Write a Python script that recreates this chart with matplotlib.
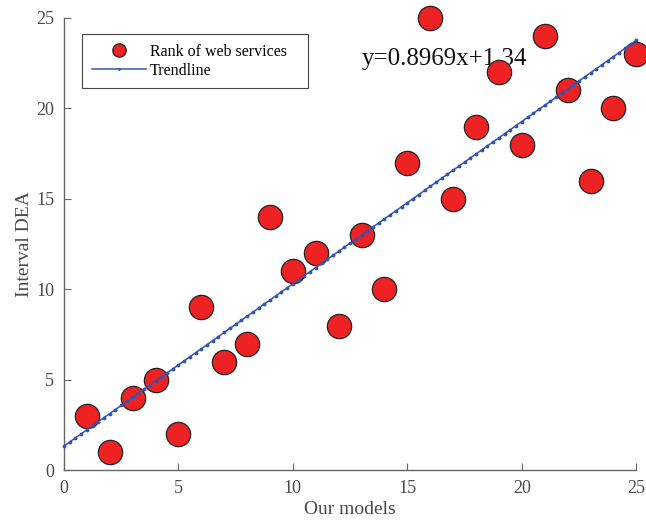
import numpy as np
import matplotlib
matplotlib.use("Agg")
import matplotlib.pyplot as plt

# ===== DATA =====
our_models = [1, 2, 3, 4, 5, 6, 7, 8, 9, 10, 11, 12, 13, 14, 15, 16, 17, 18, 19, 20, 21, 22, 23, 24, 25]
interval_dea = [3, 1, 4, 5, 2, 9, 6, 7, 14, 11, 12, 8, 13, 10, 17, 25, 15, 19, 22, 18, 24, 21, 16, 20, 23]
SLOPE = 0.8969
INTERCEPT = 1.34
TREND_X = np.linspace(0, 25, 101)

plt.rcParams["font.family"] = ["Liberation Serif", "DejaVu Serif"]

fig = plt.figure(figsize=(6.46, 5.29), dpi=100)
ax = fig.add_axes([0.099, 0.111, 0.886, 0.855])

ax.plot(our_models, interval_dea, "o", color="#ee2222", markeredgecolor="#222222",
        markeredgewidth=0.9, markersize=17.5, label="Rank of web services",
        zorder=2, clip_on=False)
ax.plot(TREND_X, SLOPE * TREND_X + INTERCEPT, "-", marker=".", color="#3355b0",
        linewidth=1.1, markersize=3.5, label="Trendline", zorder=3, clip_on=False)

ax.set_xlim(0, 25)
ax.set_ylim(0, 25)
ax.set_xticks([0, 5, 10, 15, 20, 25])
ax.set_yticks([0, 5, 10, 15, 20, 25])
ax.set_xlabel("Our models", fontsize=14, color="#4a4a4a", labelpad=3)
ax.set_ylabel("Interval DEA", fontsize=14, color="#4a4a4a", labelpad=2)

for s in ["top", "right"]:
    ax.spines[s].set_visible(False)
for s in ["left", "bottom"]:
    ax.spines[s].set_color("#666666")
    ax.spines[s].set_linewidth(1.0)
ax.tick_params(direction="in", length=5, width=0.8, colors="#666666",
               labelcolor="#4a4a4a", labelsize=13, pad=7)

leg = ax.legend(loc="upper left", bbox_to_anchor=(0.0315, 0.852, 0.395, 0.1126),
                mode="expand", fontsize=11.5, fancybox=False, edgecolor="#444444",
                framealpha=1, markerscale=0.55, handlelength=3.4, handletextpad=0.25,
                borderpad=0.6, labelspacing=0.2, borderaxespad=0)
leg.get_frame().set_linewidth(0.8)

ax.text(0.521, 0.909, "y=0.8969x+1.34", transform=ax.transAxes, fontsize=18,
        color="#111111", va="center", ha="left", zorder=1)

fig.savefig("out.png", dpi=100)
